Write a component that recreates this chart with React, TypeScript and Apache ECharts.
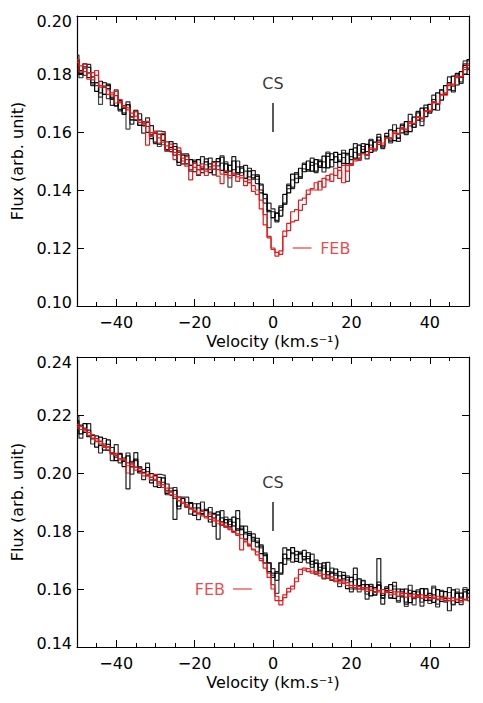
import React, { useEffect, useRef } from "react";
import * as echarts from "echarts";

// Velocity grid (km/s), 1 km/s bins from -50 to 50
const velocity: number[] = Array.from({ length: 101 }, (_, i) => i - 50);

// ---------- Top panel ----------
const topBlackA = [
  0.1850, 0.1802, 0.1835, 0.1788, 0.1790, 0.1740, 0.1775, 0.1730, 0.1765, 0.1717,
  0.1690, 0.1708, 0.1661, 0.1694, 0.1652, 0.1675, 0.1623, 0.1621, 0.1634, 0.1577,
  0.1600, 0.1558, 0.1591, 0.1539, 0.1547, 0.1550, 0.1495, 0.1520, 0.1490, 0.1505,
  0.1463, 0.1505, 0.1475, 0.1497, 0.1460, 0.1497, 0.1508, 0.1468, 0.1490, 0.1465,
  0.1500, 0.1460, 0.1480, 0.1440, 0.1465, 0.1442, 0.1452, 0.1390, 0.1385, 0.1325,
  0.1305, 0.1320, 0.1310, 0.1385, 0.1390, 0.1455, 0.1425, 0.1475, 0.1463, 0.1500,
  0.1465, 0.1505, 0.1478, 0.1517, 0.1476, 0.1505, 0.1530, 0.1498, 0.1527, 0.1491,
  0.1540, 0.1510, 0.1555, 0.1530, 0.1557, 0.1530, 0.1565, 0.1582, 0.1553, 0.1585,
  0.1607, 0.1570, 0.1613, 0.1597, 0.1636, 0.1601, 0.1651, 0.1641, 0.1682, 0.1653,
  0.1695, 0.1677, 0.1735, 0.1710, 0.1760, 0.1745, 0.1793, 0.1762, 0.1808, 0.1800, 0.1850,
];
const topBlackB = [
  0.1815, 0.1812, 0.1825, 0.1823, 0.1770, 0.1770, 0.1735, 0.1755, 0.1760, 0.1712,
  0.1725, 0.1673, 0.1691, 0.1694, 0.1642, 0.1640, 0.1663, 0.1631, 0.1599, 0.1622,
  0.1565, 0.1593, 0.1571, 0.1534, 0.1567, 0.1520, 0.1535, 0.1490, 0.1520, 0.1485,
  0.1498, 0.1470, 0.1460, 0.1507, 0.1490, 0.1472, 0.1498, 0.1513, 0.1460, 0.1485,
  0.1515, 0.1455, 0.1475, 0.1440, 0.1475, 0.1437, 0.1447, 0.1400, 0.1385, 0.1330,
  0.1325, 0.1290, 0.1340, 0.1355, 0.1415, 0.1410, 0.1455, 0.1445, 0.1488, 0.1470,
  0.1495, 0.1465, 0.1498, 0.1477, 0.1516, 0.1525, 0.1495, 0.1523, 0.1492, 0.1526,
  0.1505, 0.1545, 0.1510, 0.1550, 0.1532, 0.1575, 0.1540, 0.1572, 0.1548, 0.1595,
  0.1572, 0.1605, 0.1578, 0.1627, 0.1601, 0.1636, 0.1616, 0.1671, 0.1647, 0.1683,
  0.1665, 0.1712, 0.1695, 0.1745, 0.1730, 0.1770, 0.1738, 0.1802, 0.1788, 0.1830, 0.1820,
];
const topGreyC = [
  0.1845, 0.1802, 0.1795, 0.1803, 0.1765, 0.1760, 0.1695, 0.1730, 0.1715, 0.1720,
  0.1690, 0.1703, 0.1666, 0.1610, 0.1642, 0.1642, 0.1623, 0.1636, 0.1619, 0.1592,
  0.1595, 0.1550, 0.1556, 0.1566, 0.1532, 0.1540, 0.1530, 0.1500, 0.1505, 0.1485,
  0.1493, 0.1485, 0.1470, 0.1487, 0.1480, 0.1497, 0.1483, 0.1493, 0.1497, 0.1410,
  0.1470, 0.1480, 0.1460, 0.1465, 0.1445, 0.1452, 0.1437, 0.1417, 0.1370, 0.1270,
  0.1305, 0.1320, 0.1330, 0.1350, 0.1405, 0.1435, 0.1440, 0.1445, 0.1473, 0.1470,
  0.1485, 0.1490, 0.1483, 0.1497, 0.1526, 0.1505, 0.1515, 0.1503, 0.1512, 0.1430,
  0.1515, 0.1530, 0.1525, 0.1540, 0.1522, 0.1555, 0.1535, 0.1557, 0.1553, 0.1580,
  0.1567, 0.1595, 0.1580, 0.1610, 0.1596, 0.1621, 0.1616, 0.1651, 0.1637, 0.1673,
  0.1670, 0.1702, 0.1695, 0.1730, 0.1730, 0.1770, 0.1758, 0.1787, 0.1773, 0.1845, 0.1845,
];
const topBlackD = [
  0.1865, 0.1787, 0.1820, 0.1833, 0.1760, 0.1770, 0.1720, 0.1770, 0.1750, 0.1692,
  0.1745, 0.1678, 0.1681, 0.1704, 0.1627, 0.1670, 0.1643, 0.1596, 0.1649, 0.1587,
  0.1560, 0.1603, 0.1601, 0.1534, 0.1532, 0.1560, 0.1485, 0.1525, 0.1525, 0.1465,
  0.1503, 0.1450, 0.1515, 0.1472, 0.1510, 0.1452, 0.1498, 0.1518, 0.1465, 0.1485,
  0.1450, 0.1500, 0.1450, 0.1485, 0.1425, 0.1467, 0.1422, 0.1420, 0.1355, 0.1355,
  0.1335, 0.1295, 0.1345, 0.1350, 0.1420, 0.1405, 0.1460, 0.1440, 0.1493, 0.1465,
  0.1510, 0.1460, 0.1503, 0.1462, 0.1531, 0.1480, 0.1515, 0.1478, 0.1537, 0.1521,
  0.1490, 0.1560, 0.1520, 0.1560, 0.1507, 0.1570, 0.1540, 0.1592, 0.1543, 0.1585,
  0.1562, 0.1625, 0.1568, 0.1622, 0.1591, 0.1661, 0.1626, 0.1666, 0.1622, 0.1693,
  0.1670, 0.1727, 0.1675, 0.1745, 0.1730, 0.1790, 0.1743, 0.1797, 0.1768, 0.1835, 0.1815,
];
const topRedD = [
  0.1850, 0.1828, 0.1808, 0.1805, 0.1780, 0.1812, 0.1760, 0.1758, 0.1745, 0.1728,
  0.1740, 0.1700, 0.1690, 0.1676, 0.1665, 0.1655, 0.1640, 0.1627, 0.1555, 0.1598,
  0.1598, 0.1580, 0.1565, 0.1552, 0.1540, 0.1530, 0.1522, 0.1510, 0.1482, 0.1435,
  0.1478, 0.1470, 0.1480, 0.1465, 0.1470, 0.1495, 0.1470, 0.1455, 0.1465, 0.1450,
  0.1458, 0.1445, 0.1450, 0.1430, 0.1435, 0.1415, 0.1400, 0.1365, 0.1315, 0.1240,
  0.1200, 0.1172, 0.1190, 0.1258, 0.1285, 0.1325, 0.1332, 0.1365, 0.1372, 0.1400,
  0.1405, 0.1425, 0.1400, 0.1440, 0.1435, 0.1455, 0.1450, 0.1468, 0.1425, 0.1485,
  0.1488, 0.1505, 0.1502, 0.1525, 0.1520, 0.1545, 0.1540, 0.1565, 0.1555, 0.1580,
  0.1578, 0.1595, 0.1592, 0.1612, 0.1610, 0.1630, 0.1628, 0.1650, 0.1648, 0.1670,
  0.1675, 0.1700, 0.1698, 0.1728, 0.1735, 0.1760, 0.1765, 0.1790, 0.1792, 0.1815, 0.1830,
];
const topRedE = [
  0.1840, 0.1807, 0.1835, 0.1782, 0.1805, 0.1795, 0.1755, 0.1757, 0.1730, 0.1735,
  0.1700, 0.1712, 0.1685, 0.1683, 0.1650, 0.1670, 0.1633, 0.1630, 0.1637, 0.1585,
  0.1603, 0.1562, 0.1595, 0.1533, 0.1558, 0.1505, 0.1545, 0.1490, 0.1515, 0.1470,
  0.1492, 0.1453, 0.1490, 0.1450, 0.1472, 0.1483, 0.1448, 0.1422, 0.1453, 0.1442,
  0.1455, 0.1430, 0.1442, 0.1415, 0.1425, 0.1395, 0.1385, 0.1335, 0.1280, 0.1235,
  0.1195, 0.1185, 0.1178, 0.1240, 0.1260, 0.1290, 0.1295, 0.1330, 0.1350, 0.1385,
  0.1400, 0.1400, 0.1430, 0.1410, 0.1450, 0.1430, 0.1475, 0.1440, 0.1485, 0.1465,
  0.1485, 0.1500, 0.1505, 0.1525, 0.1520, 0.1540, 0.1540, 0.1565, 0.1562, 0.1580,
  0.1580, 0.1600, 0.1595, 0.1615, 0.1607, 0.1635, 0.1630, 0.1653, 0.1645, 0.1673,
  0.1672, 0.1705, 0.1697, 0.1728, 0.1727, 0.1765, 0.1762, 0.1793, 0.1790, 0.1823, 0.1835,
];

// ---------- Bottom panel ----------
const bottomBlackA = [
  0.2180, 0.2135, 0.2170, 0.2125, 0.2130, 0.2089, 0.2124, 0.2079, 0.2114, 0.2068,
  0.2043, 0.2065, 0.2022, 0.2059, 0.2021, 0.2048, 0.2000, 0.2002, 0.2019, 0.1966,
  0.1993, 0.1950, 0.1983, 0.1930, 0.1938, 0.1940, 0.1886, 0.1912, 0.1882, 0.1898,
  0.1854, 0.1894, 0.1860, 0.1875, 0.1831, 0.1861, 0.1866, 0.1820, 0.1839, 0.1814,
  0.1848, 0.1803, 0.1817, 0.1772, 0.1791, 0.1765, 0.1775, 0.1722, 0.1720, 0.1660,
  0.1640, 0.1655, 0.1655, 0.1720, 0.1705, 0.1743, 0.1695, 0.1727, 0.1703, 0.1725,
  0.1675, 0.1700, 0.1662, 0.1690, 0.1637, 0.1655, 0.1669, 0.1628, 0.1647, 0.1601,
  0.1640, 0.1600, 0.1635, 0.1600, 0.1615, 0.1576, 0.1605, 0.1614, 0.1578, 0.1602,
  0.1615, 0.1568, 0.1600, 0.1573, 0.1600, 0.1553, 0.1592, 0.1572, 0.1601, 0.1561,
  0.1585, 0.1554, 0.1598, 0.1557, 0.1591, 0.1560, 0.1597, 0.1554, 0.1586, 0.1563, 0.1595,
];
const bottomBlackB = [
  0.2160, 0.2165, 0.2140, 0.2148, 0.2118, 0.2128, 0.2095, 0.2100, 0.2078, 0.2088,
  0.2055, 0.2068, 0.2040, 0.1945, 0.2035, 0.2070, 0.2005, 0.2012, 0.1990, 0.1998,
  0.1975, 0.1985, 0.1950, 0.1962, 0.1935, 0.1840, 0.1905, 0.1912, 0.1885, 0.1895,
  0.1868, 0.1880, 0.1858, 0.1870, 0.1850, 0.1858, 0.1772, 0.1845, 0.1828, 0.1840,
  0.1818, 0.1870, 0.1805, 0.1795, 0.1785, 0.1778, 0.1760, 0.1748, 0.1715, 0.1690,
  0.1655, 0.1660, 0.1690, 0.1742, 0.1735, 0.1725, 0.1718, 0.1722, 0.1712, 0.1705,
  0.1695, 0.1688, 0.1675, 0.1672, 0.1660, 0.1658, 0.1648, 0.1645, 0.1635, 0.1640,
  0.1625, 0.1672, 0.1612, 0.1615, 0.1600, 0.1608, 0.1590, 0.1705, 0.1548, 0.1595,
  0.1588, 0.1600, 0.1575, 0.1590, 0.1548, 0.1585, 0.1572, 0.1580, 0.1568, 0.1578,
  0.1570, 0.1580, 0.1565, 0.1575, 0.1568, 0.1525, 0.1570, 0.1585, 0.1572, 0.1590, 0.1585,
];
const bottomGreyC = [
  0.2155, 0.2150, 0.2150, 0.2128, 0.2130, 0.2110, 0.2108, 0.2090, 0.2090, 0.2068,
  0.2065, 0.2050, 0.2052, 0.2035, 0.2040, 0.2020, 0.2022, 0.2000, 0.2005, 0.1985,
  0.1990, 0.1965, 0.1968, 0.1940, 0.1948, 0.1912, 0.1918, 0.1895, 0.1898, 0.1878,
  0.1880, 0.1862, 0.1872, 0.1850, 0.1865, 0.1845, 0.1855, 0.1832, 0.1848, 0.1822,
  0.1830, 0.1808, 0.1810, 0.1790, 0.1798, 0.1772, 0.1765, 0.1742, 0.1725, 0.1690,
  0.1648, 0.1585, 0.1650, 0.1705, 0.1700, 0.1722, 0.1705, 0.1720, 0.1700, 0.1712,
  0.1685, 0.1690, 0.1665, 0.1680, 0.1650, 0.1672, 0.1625, 0.1660, 0.1620, 0.1645,
  0.1600, 0.1632, 0.1590, 0.1628, 0.1582, 0.1615, 0.1578, 0.1612, 0.1570, 0.1608,
  0.1568, 0.1610, 0.1560, 0.1600, 0.1540, 0.1595, 0.1545, 0.1590, 0.1555, 0.1600,
  0.1550, 0.1610, 0.1548, 0.1595, 0.1555, 0.1588, 0.1545, 0.1600, 0.1560, 0.1605, 0.1570,
];
const bottomBlackD = [
  0.2195, 0.2120, 0.2155, 0.2170, 0.2100, 0.2119, 0.2069, 0.2119, 0.2099, 0.2043,
  0.2098, 0.2035, 0.2042, 0.2069, 0.1996, 0.2043, 0.2020, 0.1977, 0.2034, 0.1976,
  0.1953, 0.1995, 0.1993, 0.1925, 0.1923, 0.1950, 0.1876, 0.1917, 0.1917, 0.1858,
  0.1894, 0.1839, 0.1900, 0.1850, 0.1881, 0.1816, 0.1856, 0.1870, 0.1814, 0.1834,
  0.1798, 0.1843, 0.1787, 0.1817, 0.1751, 0.1790, 0.1745, 0.1752, 0.1690, 0.1690,
  0.1670, 0.1630, 0.1690, 0.1685, 0.1735, 0.1693, 0.1730, 0.1692, 0.1733, 0.1690,
  0.1720, 0.1655, 0.1687, 0.1635, 0.1692, 0.1630, 0.1654, 0.1608, 0.1657, 0.1631,
  0.1590, 0.1650, 0.1600, 0.1630, 0.1565, 0.1616, 0.1580, 0.1624, 0.1568, 0.1602,
  0.1570, 0.1623, 0.1555, 0.1598, 0.1555, 0.1613, 0.1567, 0.1597, 0.1541, 0.1601,
  0.1560, 0.1604, 0.1538, 0.1592, 0.1561, 0.1605, 0.1547, 0.1589, 0.1546, 0.1598, 0.1560,
];
const bottomRedD = [
  0.2168, 0.2160, 0.2145, 0.2140, 0.2120, 0.2118, 0.2100, 0.2095, 0.2080, 0.2070,
  0.2060, 0.2050, 0.2045, 0.2000, 0.2035, 0.2020, 0.2015, 0.2000, 0.1995, 0.1985,
  0.1995, 0.1970, 0.1960, 0.1948, 0.1935, 0.1925, 0.1915, 0.1900, 0.1890, 0.1880,
  0.1872, 0.1862, 0.1868, 0.1850, 0.1858, 0.1842, 0.1835, 0.1828, 0.1818, 0.1810,
  0.1800, 0.1790, 0.1735, 0.1765, 0.1755, 0.1738, 0.1728, 0.1705, 0.1688, 0.1655,
  0.1615, 0.1560, 0.1545, 0.1570, 0.1590, 0.1600, 0.1638, 0.1668, 0.1672, 0.1660,
  0.1662, 0.1650, 0.1655, 0.1638, 0.1645, 0.1632, 0.1635, 0.1620, 0.1628, 0.1612,
  0.1612, 0.1605, 0.1608, 0.1598, 0.1605, 0.1595, 0.1600, 0.1590, 0.1598, 0.1588,
  0.1595, 0.1582, 0.1590, 0.1578, 0.1585, 0.1575, 0.1582, 0.1572, 0.1580, 0.1570,
  0.1578, 0.1568, 0.1575, 0.1565, 0.1572, 0.1560, 0.1570, 0.1562, 0.1568, 0.1565, 0.1572,
];
const bottomRedE = [
  0.2160, 0.2150, 0.2152, 0.2130, 0.2132, 0.2108, 0.2110, 0.2088, 0.2090, 0.2065,
  0.2068, 0.2045, 0.2048, 0.2025, 0.2028, 0.2010, 0.2008, 0.1990, 0.1992, 0.1975,
  0.1978, 0.1958, 0.1950, 0.1935, 0.1925, 0.1918, 0.1905, 0.1895, 0.1885, 0.1875,
  0.1865, 0.1858, 0.1852, 0.1845, 0.1840, 0.1835, 0.1825, 0.1820, 0.1812, 0.1805,
  0.1795, 0.1785, 0.1775, 0.1762, 0.1748, 0.1735, 0.1718, 0.1698, 0.1672, 0.1640,
  0.1600, 0.1575, 0.1560, 0.1580, 0.1602, 0.1610, 0.1625, 0.1650, 0.1665, 0.1670,
  0.1655, 0.1660, 0.1645, 0.1650, 0.1638, 0.1642, 0.1628, 0.1632, 0.1620, 0.1622,
  0.1605, 0.1612, 0.1600, 0.1605, 0.1592, 0.1600, 0.1588, 0.1595, 0.1585, 0.1592,
  0.1580, 0.1590, 0.1575, 0.1585, 0.1572, 0.1580, 0.1570, 0.1578, 0.1568, 0.1575,
  0.1565, 0.1572, 0.1562, 0.1570, 0.1558, 0.1568, 0.1560, 0.1565, 0.1555, 0.1562, 0.1560,
];

// Axis ticks / labels
const xMajorTicks = [-40, -20, 0, 20, 40];
const topYRange = [0.1, 0.2];
const bottomYRange = [0.14, 0.24];

// Annotations (data coordinates)
const topCSBar = [[0, 0.16], [0, 0.17]];
const topCSText = [0, 0.1766];
const topFEBDash = [[5, 0.12], [9.8, 0.12]];
const topFEBText = [11.9, 0.12];
const bottomCSBar = [[0, 0.18], [0, 0.19]];
const bottomCSText = [0, 0.1967];
const bottomFEBDash = [[-10.2, 0.16], [-5.4, 0.16]];
const bottomFEBText = [-12.1, 0.16];

const FONT = "DejaVu Sans";
const FS = 16;
const RED = "#e41a1c";
const INK = "#000";

const pairs = (vals: number[]) => vals.map((v, i) => [velocity[i], v]);

function xAxesFor(grid: number) {
  const base = {
    type: "value",
    gridIndex: grid,
    min: -50,
    max: 50,
    interval: 5,
    splitLine: { show: false },
  };
  const line = { show: true, onZero: false, lineStyle: { color: INK, width: 1.2 } };
  const noLine = { show: false, onZero: false };
  return [
    {
      ...base,
      position: "bottom",
      axisLine: line,
      axisTick: { show: true, inside: true, length: 7, customValues: xMajorTicks, lineStyle: { color: INK } },
      axisLabel: {
        show: true,
        customValues: xMajorTicks,
        margin: 8,
        fontSize: FS,
        fontFamily: FONT,
        color: INK,
        formatter: (v: number) => (v < 0 ? "\u2212" + Math.abs(v) : String(v)),
      },
      name: "Velocity (km.s\u207B\u00B9)",
      nameLocation: "middle",
      nameGap: 27,
      nameTextStyle: { fontSize: FS, fontFamily: FONT, color: INK },
    },
    {
      ...base,
      position: "bottom",
      axisLine: noLine,
      axisTick: { show: true, inside: true, length: 4, lineStyle: { color: INK } },
      axisLabel: { show: false },
    },
    {
      ...base,
      position: "top",
      axisLine: line,
      axisTick: { show: true, inside: true, length: 7, customValues: xMajorTicks, lineStyle: { color: INK } },
      axisLabel: { show: false },
    },
    {
      ...base,
      position: "top",
      axisLine: noLine,
      axisTick: { show: true, inside: true, length: 4, lineStyle: { color: INK } },
      axisLabel: { show: false },
    },
  ];
}

function yAxesFor(grid: number, range: number[]) {
  const [min, max] = range;
  const base = {
    type: "value",
    gridIndex: grid,
    min,
    max,
    interval: 0.02,
    splitLine: { show: false },
  };
  const line = { show: true, onZero: false, lineStyle: { color: INK, width: 1.2 } };
  const txt = { fontSize: FS, fontFamily: FONT, color: INK };
  return [
    {
      ...base,
      position: "left",
      axisLine: line,
      axisTick: { show: true, inside: true, length: 7, lineStyle: { color: INK } },
      axisLabel: {
        show: true,
        margin: 5,
        ...txt,
        formatter: (v: number) => {
          const s = v.toFixed(2);
          if (Math.abs(v - max) < 1e-9) return "{hi|" + s + "}";
          if (Math.abs(v - min) < 1e-9) return "{lo|" + s + "}";
          return s;
        },
        rich: {
          hi: { ...txt, padding: [11, 0, 0, 0] },
          lo: { ...txt, padding: [0, 0, 8, 0] },
        },
      },
      name: "Flux (arb. unit)",
      nameLocation: "middle",
      nameGap: 50,
      nameTextStyle: txt,
    },
    {
      ...base,
      position: "right",
      axisLine: line,
      axisTick: { show: true, inside: true, length: 7, lineStyle: { color: INK } },
      axisLabel: { show: false },
    },
  ];
}

function spectrum(vals: number[], xi: number, yi: number, color: string) {
  return {
    type: "line",
    xAxisIndex: xi,
    yAxisIndex: yi,
    data: pairs(vals),
    step: "middle",
    symbol: "none",
    silent: true,
    lineStyle: { color, width: 1.2 },
  };
}

function segment(pts: number[][], xi: number, yi: number, color: string, width: number) {
  return {
    type: "line",
    xAxisIndex: xi,
    yAxisIndex: yi,
    data: pts,
    symbol: "none",
    silent: true,
    lineStyle: { color, width },
  };
}

function label(pt: number[], text: string, xi: number, yi: number, color: string, position: string) {
  return {
    type: "scatter",
    xAxisIndex: xi,
    yAxisIndex: yi,
    data: [pt],
    symbolSize: 1,
    silent: true,
    itemStyle: { color: "rgba(0,0,0,0)" },
    label: {
      show: true,
      formatter: text,
      position,
      distance: 0,
      fontSize: FS,
      fontFamily: FONT,
      color,
    },
  };
}

export default function App() {
  const ref = useRef<HTMLDivElement>(null);

  useEffect(() => {
    document.body.style.margin = "0";
    if (!ref.current) return;
    const chart = echarts.init(ref.current, null, { renderer: "svg" });
    const option = {
      animation: false,
      backgroundColor: "#fff",
      grid: [
        { left: 77, top: 16, width: 392, height: 290, containLabel: false },
        { left: 77, top: 357, width: 392, height: 290, containLabel: false },
      ],
      xAxis: [...xAxesFor(0), ...xAxesFor(1)],
      yAxis: [...yAxesFor(0, topYRange), ...yAxesFor(1, bottomYRange)],
      series: [
        spectrum(topGreyC, 0, 0, "#444"),
        spectrum(topBlackD, 0, 0, "#2a2a2a"),
        spectrum(topBlackB, 0, 0, "#1a1a1a"),
        spectrum(topBlackA, 0, 0, "#000"),
        spectrum(topRedE, 0, 0, RED),
        spectrum(topRedD, 0, 0, RED),
        segment(topCSBar, 0, 0, "#222", 1.5),
        label(topCSText, "CS", 0, 0, INK, "inside"),
        segment(topFEBDash, 0, 0, RED, 1.2),
        label(topFEBText, "FEB", 0, 0, RED, "right"),

        spectrum(bottomGreyC, 4, 2, "#444"),
        spectrum(bottomBlackD, 4, 2, "#2a2a2a"),
        spectrum(bottomBlackB, 4, 2, "#1a1a1a"),
        spectrum(bottomBlackA, 4, 2, "#000"),
        spectrum(bottomRedE, 4, 2, RED),
        spectrum(bottomRedD, 4, 2, RED),
        segment(bottomCSBar, 4, 2, "#222", 1.5),
        label(bottomCSText, "CS", 4, 2, INK, "inside"),
        segment(bottomFEBDash, 4, 2, RED, 1.2),
        label(bottomFEBText, "FEB", 4, 2, RED, "left"),
      ],
    };
    chart.setOption(option as any);
    return () => chart.dispose();
  }, []);

  return <div ref={ref} style={{ width: 483, height: 703 }} />;
}
